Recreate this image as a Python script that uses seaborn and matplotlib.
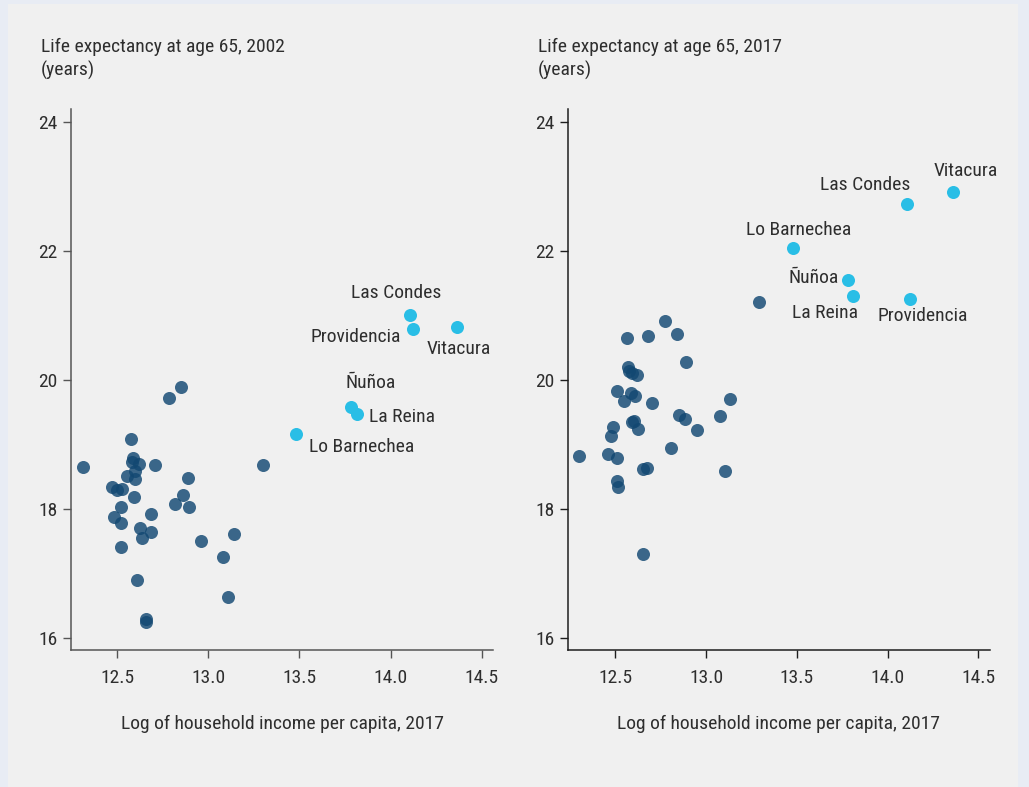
import matplotlib
matplotlib.use("Agg")
import matplotlib.pyplot as plt
from matplotlib.patches import Rectangle
import seaborn as sns
import pandas as pd

# ---------------- data ----------------
names = ["Las Condes", "Providencia", "Vitacura", "Ñuñoa", "La Reina", "Lo Barnechea"]

left_x_hi = [14.106, 14.125, 14.364, 13.781, 13.814, 13.481]
left_y_hi = [21.01, 20.79, 20.81, 19.58, 19.47, 19.16]
right_x_hi = [14.105, 14.124, 14.362, 13.782, 13.811, 13.477]
right_y_hi = [22.73, 21.25, 22.91, 21.55, 21.30, 22.04]

left_x_dark = [12.848, 12.782, 12.312, 12.574, 12.585, 12.579, 12.621, 12.709, 13.298, 12.599,
               12.552, 12.595, 12.890, 12.471, 12.497, 12.526, 12.859, 12.592, 12.815, 12.520,
               12.894, 12.685, 12.484, 12.520, 12.625, 12.685, 13.139, 12.636, 12.958, 12.520,
               13.082, 12.608, 13.108, 12.658, 12.658]
left_y_dark = [19.88, 19.71, 18.64, 19.08, 18.78, 18.73, 18.70, 18.68, 18.68, 18.58,
               18.51, 18.46, 18.47, 18.34, 18.29, 18.30, 18.21, 18.18, 18.08, 18.02,
               18.02, 17.92, 17.87, 17.78, 17.70, 17.64, 17.61, 17.54, 17.50, 17.41,
               17.25, 16.89, 16.63, 16.29, 16.25]

right_x_dark = [13.293, 12.772, 12.566, 12.678, 12.842, 12.888, 12.568, 12.575, 12.590, 12.618,
                12.511, 12.587, 12.609, 12.546, 12.702, 13.132, 12.851, 12.884, 13.075, 12.590,
                12.605, 12.489, 12.627, 12.952, 12.476, 12.809, 12.302, 12.461, 12.511, 12.651,
                12.676, 13.104, 12.511, 12.513, 12.651]
right_y_dark = [21.21, 20.91, 20.65, 20.67, 20.71, 20.28, 20.20, 20.14, 20.10, 20.08,
                19.83, 19.79, 19.75, 19.67, 19.64, 19.70, 19.45, 19.39, 19.43, 19.35,
                19.36, 19.27, 19.24, 19.22, 19.13, 18.94, 18.81, 18.85, 18.79, 18.62,
                18.63, 18.58, 18.43, 18.34, 17.30]

x_ticks = [12.5, 13.0, 13.5, 14.0, 14.5]
y_ticks = [16, 18, 20, 22, 24]
titles = ["Life expectancy at age 65, 2002", "Life expectancy at age 65, 2017"]
x_label = "Log of household income per capita, 2017"

# label placement (style): ha, dx, dy in pixels
left_lab = {"Las Condes": ("center", -14, 22), "Providencia": ("right", -12, -8),
            "Vitacura": ("center", 2, -22), "Ñuñoa": ("center", 20, 24),
            "La Reina": ("left", 12, -3), "Lo Barnechea": ("left", 13, -13)}
right_lab = {"Las Condes": ("right", 4, 19), "Providencia": ("center", 13, -17),
             "Vitacura": ("center", 12, 21), "Ñuñoa": ("right", -9, 2),
             "La Reina": ("right", 5, -17), "Lo Barnechea": ("center", 6, 18)}

# ---------------- style ----------------
sns.set_theme(style="ticks")
plt.rcParams["font.family"] = ["Roboto Condensed", "Liberation Sans Narrow", "Liberation Sans", "DejaVu Sans"]
FS = 14
TXT = "#2e2e2e"
BG = "#f0f0f0"
DARK = "#124872"
LIGHT = "#29bee6"
SPINE = ["#555555", "#1e1e1e"]

fig = plt.figure(figsize=(10.29, 7.87), dpi=100)
fig.patch.set_facecolor("#e8ecf4")
fig.patches.append(Rectangle((8 / 1029, 0), 1010 / 1029, 1 - 4 / 787, transform=fig.transFigure,
                             facecolor=BG, edgecolor="none", zorder=-5))

W, H = 1029, 787
axes_px = [(71, 493.3), (567.7, 990)]
bottom_px, top_px = 650, 109
xlims = [(12.246, 14.564), (12.238, 14.564)]
ylim = (15.81, 24.196)

panels = [
    (left_x_dark, left_y_dark, left_x_hi, left_y_hi, left_lab, 41),
    (right_x_dark, right_y_dark, right_x_hi, right_y_hi, right_lab, 538),
]

for i, (xd, yd, xh, yh, labs, tx) in enumerate(panels):
    l, r = axes_px[i]
    ax = fig.add_axes([l / W, 1 - bottom_px / H, (r - l) / W, (bottom_px - top_px) / H])
    ax.set_facecolor("none")
    ax.set_zorder(2)
    dfd = pd.DataFrame({"x": xd, "y": yd})
    dfh = pd.DataFrame({"x": xh, "y": yh, "name": names})
    sns.scatterplot(data=dfd, x="x", y="y", ax=ax, color=DARK, alpha=0.82, s=88,
                    linewidth=0, zorder=3)
    sns.scatterplot(data=dfh, x="x", y="y", ax=ax, color=LIGHT, alpha=1.0, s=88,
                    linewidth=0, zorder=4)
    for _, row in dfh.iterrows():
        ha, dx, dy = labs[row["name"]]
        ax.annotate(row["name"], (row["x"], row["y"]), xytext=(dx, dy),
                    textcoords="offset pixels", ha=ha, va="center",
                    fontsize=FS, color=TXT)
    ax.set_xlim(*xlims[i])
    ax.set_ylim(*ylim)
    ax.set_xticks(x_ticks)
    ax.set_xticklabels([f"{v:.1f}" for v in x_ticks])
    ax.set_yticks(y_ticks)
    ax.set_yticklabels([str(v) for v in y_ticks])
    sns.despine(ax=ax)
    for sp in ("left", "bottom"):
        ax.spines[sp].set_color(SPINE[i])
        ax.spines[sp].set_linewidth(1.1)
    ax.tick_params(axis="both", direction="out", length=5.5, width=1.0, color=SPINE[i],
                   labelsize=FS, labelcolor=TXT)
    ax.tick_params(axis="x", pad=8)
    ax.tick_params(axis="y", pad=4)
    ax.set_ylabel("")
    ax.set_xlabel(x_label, fontsize=FS, color=TXT, labelpad=20)
    fig.text(tx / W, 1 - 52.5 / H, titles[i], fontsize=FS, color=TXT, va="baseline", ha="left")
    fig.text(tx / W, 1 - 76 / H, "(years)", fontsize=FS, color=TXT, va="baseline", ha="left")

fig.savefig("out.png", dpi=100, facecolor=fig.get_facecolor())
